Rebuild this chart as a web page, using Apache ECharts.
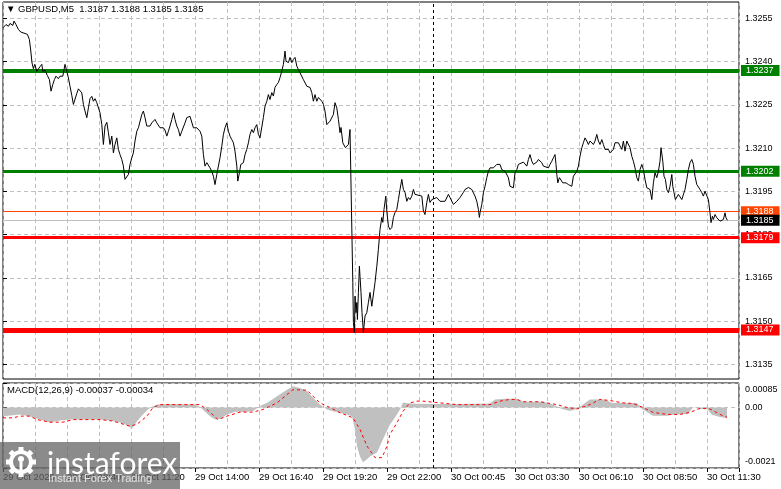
<!DOCTYPE html>
<html>
<head>
<meta charset="utf-8">
<script src="https://cdn.jsdelivr.net/npm/echarts@6/dist/echarts.min.js"></script>
<style>html,body{margin:0;padding:0;background:#fff}#c{width:781px;height:489px}</style>
</head>
<body>
<div id="c"></div>
<script>
// ---------- DATA ----------
const chartTitle = '\u25BC GBPUSD,M5  1.3187 1.3188 1.3185 1.3185';
const macdTitle = 'MACD(12,26,9) -0.00037 -0.00034';
const barCount = 368; // visible bar slots (M5)
const timeLabelBars = [0, 32, 64, 96, 128, 160, 192, 224, 256, 288, 320, 352];
const timeLabels = ['29 Oct 2025', '29 Oct 08:40', '29 Oct 11:20', '29 Oct 14:00', '29 Oct 16:40', '29 Oct 19:20',
  '29 Oct 22:00', '30 Oct 00:45', '30 Oct 03:30', '30 Oct 06:10', '30 Oct 08:50', '30 Oct 11:30'];
const daySeparatorBar = 215;
const priceMin = 1.312997, priceMax = 1.326072;
const priceTicks = [1.3135, 1.3150, 1.3165, 1.3180, 1.3195, 1.3210, 1.3225, 1.3240, 1.3255];
const macdMin = -0.0021, macdMax = 0.00085;
const macdTicks = [-0.0021, 0, 0.00085];
const levelValues = [1.3237, 1.3202, 1.3188, 1.3185, 1.3179, 1.3147];

// close line vertices: [bar index, close]
const closes = [
[0,1.32518],[1.5,1.32529],[2.7,1.32523],[3.5,1.32533],[4.9,1.32526],[5.5,1.32541],[6.5,1.32529],[7.7,1.32512],[8.9,1.32503],[9.9,1.32498],[11,1.32498],[12.2,1.32495],[13.2,1.32477],[13.9,1.32437],[14.5,1.32396],[15.2,1.32376],[15.9,1.32391],[16.9,1.32367],[17.7,1.32364],[18.5,1.32383],[19.4,1.32391],[19.9,1.32367],[21,1.32371],[22.2,1.32352],[23.2,1.32338],[24,1.32298],[24.9,1.32321],[25.7,1.32338],[26.5,1.3235],[27.7,1.32341],[28.5,1.3235],[29.9,1.3235],[31,1.32391],[31.9,1.32367],[32.7,1.32344],[33.5,1.32315],[34.4,1.32283],[35.2,1.32252],[36,1.32252],[36.9,1.3229],[37.7,1.32306],[38.5,1.3231],[39.4,1.32292],[40.2,1.32252],[41,1.32229],[41.9,1.32206],[42.7,1.3224],[43.5,1.32272],[44.4,1.3228],[45.2,1.32263],[46,1.32272],[46.9,1.32258],[47.7,1.32252],[48.5,1.32223],[49.4,1.32182],[50.2,1.32113],[51,1.32177],[51.9,1.3219],[52.7,1.32154],[53.5,1.32113],[54.4,1.32142],[55.2,1.32084],[56,1.32113],[56.9,1.32136],[57.7,1.32096],[58.5,1.32078],[59.4,1.32061],[60.2,1.32038],[61,1.31992],[61.9,1.31998],[62.7,1.32009],[63.5,1.32044],[64.4,1.32067],[65.2,1.32084],[66,1.32125],[66.9,1.32159],[67.7,1.32171],[68.5,1.32165],[69.4,1.32217],[70.2,1.32229],[71,1.32206],[71.9,1.32177],[72.7,1.32182],[73.5,1.32177],[74.4,1.32188],[75.2,1.32182],[76,1.322],[76.9,1.32188],[77.7,1.32188],[78.5,1.32171],[79.4,1.32165],[80.2,1.32171],[81,1.32163],[81.9,1.32142],[82.7,1.32159],[83.5,1.32177],[84.4,1.322],[85.2,1.32223],[86,1.322],[86.9,1.32177],[87.7,1.32165],[88.5,1.32142],[89.4,1.32159],[90.2,1.32165],[91,1.32188],[91.9,1.32206],[92.7,1.32211],[93.5,1.32211],[94.4,1.32206],[95.2,1.32171],[96,1.32165],[96.9,1.32171],[97.7,1.32168],[98.5,1.32159],[99.4,1.32142],[100.2,1.32078],[101,1.32038],[101.9,1.3205],[102.7,1.32044],[103.5,1.32032],[104.4,1.3202],[105.2,1.32003],[106,1.31974],[106.9,1.32009],[107.7,1.32038],[108.5,1.32067],[109.4,1.32107],[110.2,1.32148],[111,1.32171],[111.9,1.32188],[112.7,1.32159],[113.5,1.32142],[114.4,1.3213],[115.2,1.32119],[116,1.3209],[116.9,1.32038],[117.4,1.31986],[118.2,1.32015],[118.9,1.32044],[120.2,1.3205],[121,1.32078],[121.9,1.32096],[122.7,1.32119],[123.5,1.32148],[124.4,1.32165],[125.2,1.32154],[126,1.32171],[126.9,1.32182],[127.7,1.32148],[128.5,1.32136],
[130.2,1.32207],[131,1.32246],[131.9,1.32263],[132.7,1.32286],[133.5,1.32269],[134.4,1.32293],[135.2,1.32281],[136,1.32311],[136.9,1.32321],[137.7,1.32328],[138.5,1.32345],[139.4,1.32367],[140.2,1.32391],[141,1.32437],[141.5,1.32402],[142.7,1.32397],[143.5,1.32415],[144.4,1.32397],[145.2,1.32408],[146,1.32415],[146.9,1.32385],[147.7,1.32373],[148.5,1.32367],[150.2,1.32338],[151,1.32333],[151.9,1.32315],[153.5,1.32311],[154.4,1.32293],[155.2,1.32263],[156,1.32286],[156.9,1.32263],[157.7,1.32276],[158.5,1.32281],[159.4,1.32263],[160.2,1.32252],[161,1.32229],[161.9,1.32182],[162.7,1.32177],[163.5,1.32194],[164.4,1.322],[165.2,1.32217],[166,1.32258],[166.9,1.3224],[167.7,1.322],[168.5,1.32154],[169,1.32172],[169.9,1.32119],[170.5,1.32113],[171.2,1.32102],[171.9,1.32096],[172.7,1.32113],[173.5,1.32165],[174,1.32165],[174.9,1.31634],[175.2,1.31496],[175.7,1.31461],[176,1.31587],[176.5,1.3153],[176.9,1.31565],[177.2,1.31506],[177.7,1.316],[178.2,1.31691],[178.5,1.31656],[179,1.316],[179.5,1.3153],[180.2,1.31461],[181,1.31518],[181.9,1.3153],[182.7,1.31565],[183.5,1.316],[184.4,1.31552],[185.2,1.31552],[186,1.31634],[186.9,1.31691],[187.7,1.31749],[188.5,1.31818],[189.4,1.3186],[189.9,1.31843],[190.5,1.31888],[191.4,1.31934],[191.9,1.31882],[192.7,1.3183],[193.5,1.31818],[194.4,1.31825],[195.2,1.3186],[196,1.31877],[196.9,1.31888],[197.7,1.31922],[198.5,1.31957],[199.4,1.31992],[200.2,1.31957],[201,1.31947],[201.9,1.31916],[202.7,1.31929],[203.5,1.31922],[204.4,1.31934],[205.2,1.31957],[206,1.3194],[206.9,1.31934],[209.4,1.31934],[210.2,1.31882],[211,1.3187],[211.9,1.31912],[212.7,1.3194],[213.5,1.31912],[214.4,1.31922],[215.2,1.31916],[216.9,1.31929],[218.5,1.31916],[219.4,1.31912],[221,1.31916],[222.7,1.3194],[223.5,1.31929],[225.2,1.31905],[226.9,1.31916],[228.5,1.31929],[230.2,1.31947],[231,1.31957],[232.7,1.31964],[233.5,1.31968],[234.4,1.31957],[236,1.31934],[236.9,1.31916],[237.7,1.31888],[238.2,1.3186],[238.5,1.31876],[239.4,1.31905],[240.2,1.31946],[241,1.31968],[241.9,1.31998],[242.7,1.3202],[243.5,1.32032],[244.4,1.32026],[245.2,1.32032],[246.9,1.32044],[247.7,1.3205],[248.5,1.32044],[249.4,1.32026],[250.2,1.32032],[251,1.3202],[251.9,1.32026],[252.7,1.31998],[253.5,1.31968],[254.4,1.31974],[255.2,1.31963],[256,1.32015],[256.9,1.32026],[257.7,1.32044],[258.5,1.3205],[260.2,1.32052],[261,1.3205],[261.9,1.32038],[262.7,1.32061],[263.5,1.32078],[264.4,1.32055],[265.2,1.32044],[266,1.32044],[266.9,1.32052],[267.7,1.32061],[268.5,1.32059],[269.4,1.3205],[270.2,1.32038],[271,1.32032],[272.7,1.32032],[273.5,1.32044],[274.4,1.32055],[275.2,1.32067],[276,1.32078],[276.5,1.32044],[276.9,1.32009],[277.4,1.3198],[278.2,1.31998],[279,1.31992],[279.9,1.3198],[280.5,1.31974],[281.5,1.3198],[282.7,1.31974],[284.4,1.31968],[285.2,1.32003],[286,1.32009],[286.9,1.3202],[287.7,1.32038],[288.5,1.32072],[289.4,1.32102],[290.2,1.32119],[291,1.32136],[291.9,1.32125],[292.7,1.32113],[293.5,1.32125],[294.4,1.32119],[295.2,1.32113],[296,1.32125],[296.9,1.32148],[297.7,1.32125],[298.5,1.32113],[299.4,1.3213],[300.2,1.32113],[301,1.32096],[301.9,1.3209],[302.7,1.32096],[303.5,1.32084],[304.4,1.32084],[305.2,1.32096],[306,1.32119],[306.9,1.32125],[307.7,1.32119],[308.5,1.32125],[309.4,1.32096],[310.2,1.32125],[311,1.3209],[311.9,1.32125],[312.7,1.32119],[313.5,1.32102],[314.4,1.32072],[315.2,1.32055],[316,1.32032],[316.9,1.31998],[317.7,1.31986],[318.5,1.32026],[319.4,1.32044],[320.2,1.32026],[321,1.31992],[321.9,1.31963],[322.7,1.31968],[323.5,1.31957],[324.4,1.31922],[325.2,1.3198],[326,1.32015],[326.9,1.31998],[327.7,1.3202],[328.5,1.32055],[329,1.32102],[329.9,1.32055],[330.5,1.32003],[331.2,1.31992],[331.9,1.31957],[332.7,1.31946],[333.5,1.31968],[334.4,1.32009],[334.9,1.31968],[335.5,1.31946],[336.2,1.31922],[336.9,1.31928],[337.7,1.3194],[338.5,1.31934],[339.4,1.31922],[340.2,1.31916],[341,1.31957],[341.9,1.31992],[342.7,1.32026],[343.5,1.3205],[344.4,1.32061],[345.2,1.32044],[346,1.32003],[346.9,1.31974],[347.7,1.31968],[348.5,1.31957],[349.4,1.31946],[350.2,1.31934],[351,1.31951],[351.9,1.31957],[352.7,1.31922],[353.5,1.31876],[354,1.31842],[354.7,1.31864],[355.2,1.31853],[356,1.3187],[356.9,1.31859],[357.7,1.31864],[358.5,1.31847],[359.4,1.31844],[360.2,1.31853],[361,1.31876],[361.5,1.31859],[362.2,1.3185]
];

// MACD main (histogram) vertices: [bar index, value]
const macdMain = [
[0,-0.0003],[8.5,-0.00024],[13.5,-0.00031],[18.5,-0.00042],[23.5,-0.00052],[28.5,-0.00045],[33.5,-0.00042],[48.5,-0.00042],[53.5,-0.00045],[58.5,-0.00052],[62,-0.00062],[64.5,-0.00073],[67,-0.00048],[69.5,-0.00028],[72,-0.0001],[74.5,0.00003],[77,0.0001],[83.5,0.00012],[91,0.00011],[96,0.0001],[98.5,0.00002],[101,-0.00015],[103.5,-0.0003],[106,-0.00042],[108.5,-0.0004],[112,-0.00024],[116,-0.00015],[121,-0.00016],[125,-0.00012],[127.5,0],[130,0.0001],[132,0.00016],[137,0.00039],[142,0.00062],[145,0.00074],[148.5,0.00068],[152,0.00056],[155,0.00034],[158.5,0.0001],[162,-0.00007],[165,-0.00013],[172,-0.00024],[174.5,-0.0003],[176,-0.00076],[177,-0.00135],[178.5,-0.0017],[180,-0.0019],[182,-0.0018],[183.5,-0.0017],[187,-0.00156],[190,-0.0011],[193.5,-0.00059],[196,-0.00035],[198.5,-0.00007],[200,0.00017],[203.5,0.00014],[213.5,0.00012],[228.5,0.00012],[243.5,0.00014],[246,0.00028],[251,0.0003],[257,0.0003],[260,0.0002],[270,0.0002],[275,0.0001],[279.5,-0.00005],[283.5,-0.00012],[287,-0.00005],[290,0.0001],[293.5,0.00028],[301,0.00028],[304.5,0.00016],[317,0.00016],[319.5,-0.00005],[325,-0.00029],[332,-0.00029],[336,-0.00024],[342.5,-0.00022],[345,0],[348.5,-0.00005],[352,-0.00005],[354.5,-0.00025],[358.5,-0.00033],[362,-0.00037]
];
// MACD signal vertices
const macdSignal = [
[0,-0.00036],[5,-0.00036],[8.5,-0.0003],[13.5,-0.0003],[17,-0.00042],[23.5,-0.00051],[30,-0.00051],[35,-0.00042],[48.5,-0.00042],[55,-0.00047],[63.5,-0.00065],[67,-0.00058],[72,-0.0003],[75,0],[78.5,0.0001],[98.5,0.0001],[102,-0.00007],[107.5,-0.00042],[112,-0.0003],[118.5,-0.00016],[125,-0.00016],[130,-0.00007],[137,0.00016],[142,0.00045],[145,0.00062],[152,0.0006],[155,0.00039],[158.5,0.00016],[163.5,0],[168.5,-0.00018],[175,-0.00036],[178.5,-0.00076],[182,-0.00134],[186,-0.00174],[189.5,-0.00174],[192,-0.00134],[193.5,-0.00093],[197,-0.00053],[200,-0.00013],[203.5,0.00016],[207,0.00022],[210,0.00022],[218.5,0.00016],[227,0.0001],[243.5,0.0001],[248.5,0.00022],[253.5,0.00028],[257,0.00028],[260,0.0002],[268.5,0.0002],[277,0.0001],[282,0],[287,-0.00005],[293.5,0.0001],[298.5,0.00028],[303.5,0.00024],[310,0.00016],[315,0.00014],[320,0],[325,-0.00017],[332,-0.00024],[338.5,-0.00024],[343.5,-0.00017],[348.5,-0.00003],[353.5,-0.00005],[358.5,-0.00024],[362,-0.00034]
];

// ---------- STYLE ----------
const FONT = 'Liberation Sans';
const gridDash = {color: '#c0c0c0', type: [4, 3], width: 1};
const levelStyles = [
  {color: '#008000', width: 4, bg: '#008000'},
  {color: '#008000', width: 3, bg: '#008000'},
  {color: '#ff4500', width: 1, bg: '#ff4500'},
  {color: '#c0c0c0', width: 1, bg: '#000000'},
  {color: '#ff0000', width: 3, bg: '#ff0000'},
  {color: '#ff0000', width: 5, bg: '#ff0000'}
];
const labelMap = {};
timeLabelBars.forEach((b, i) => { labelMap[b] = timeLabels[i]; });

const chart = echarts.init(document.getElementById('c'), null, {renderer: 'canvas'});

const levelMarks = levelValues.map((v, i) => ({
  name: 'L' + i,
  yAxis: v,
  lineStyle: {color: levelStyles[i].color, width: levelStyles[i].width, type: 'solid'},
  label: {
    show: true, position: 'end', distance: 2,
    formatter: v.toFixed(4),
    color: '#fff', backgroundColor: levelStyles[i].bg,
    padding: [1, 6, 1, 5], fontSize: 9, fontFamily: FONT
  }
}));

const separatorMark = {
  xAxis: daySeparatorBar,
  lineStyle: {color: '#000', type: [3, 3], width: 1},
  label: {show: false}
};

// gear teeth for watermark
const gearCx = 21, gearCy = 462;
const teeth = [];
for (let k = 0; k < 8; k++) {
  teeth.push({
    type: 'rect', x: gearCx, y: gearCy, rotation: k * Math.PI / 4,
    shape: {x: -2.5, y: -15, width: 5, height: 6},
    style: {fill: '#fff'}, z: 101
  });
}

chart.setOption({
  animation: false,
  backgroundColor: '#fff',
  textStyle: {fontFamily: FONT},
  title: [
    {text: chartTitle, left: 6, top: 4, padding: 0,
     textStyle: {fontSize: 9.5, fontWeight: 'normal', color: '#000', fontFamily: FONT}},
    {text: macdTitle, left: 7, top: 385, padding: 0,
     textStyle: {fontSize: 9.5, fontWeight: 'normal', color: '#000', fontFamily: FONT}}
  ],
  grid: [
    {left: 3, right: 42, top: 2, height: 377, show: true, borderColor: '#000', borderWidth: 1, backgroundColor: '#fff'},
    {left: 3, right: 42, top: 383, height: 85, show: true, borderColor: '#000', borderWidth: 1, backgroundColor: '#fff'}
  ],
  xAxis: [
    {gridIndex: 0, type: 'value', min: 0, max: barCount, interval: 16,
     axisLine: {show: false}, axisTick: {show: false}, axisLabel: {show: false},
     splitLine: {show: true, lineStyle: gridDash}},
    {gridIndex: 1, type: 'value', min: 0, max: barCount, interval: 16,
     axisLine: {show: false}, axisTick: {show: false}, axisLabel: {show: false},
     splitLine: {show: true, lineStyle: gridDash}},
    {gridIndex: 1, type: 'value', min: 0, max: barCount, interval: 32, position: 'bottom',
     axisLine: {show: false},
     axisTick: {show: true, length: 4, lineStyle: {color: '#000'}},
     axisLabel: {show: true, formatter: v => labelMap[v] || '', align: 'left', margin: 4,
                 fontSize: 9.5, color: '#000', fontFamily: FONT, showMinLabel: true, showMaxLabel: true},
     splitLine: {show: false}}
  ],
  yAxis: [
    {gridIndex: 0, type: 'value', position: 'right', min: priceMin, max: priceMax,
     axisLine: {show: false},
     axisTick: {show: true, length: 4, lineStyle: {color: '#000'}, customValues: priceTicks},
     axisLabel: {customValues: priceTicks, formatter: v => v.toFixed(4), margin: 6,
                 fontSize: 9, color: '#000', fontFamily: FONT},
     splitLine: {show: true, lineStyle: gridDash}},
    {gridIndex: 1, type: 'value', position: 'right', min: macdMin, max: macdMax,
     axisLine: {show: false},
     axisTick: {show: true, length: 4, lineStyle: {color: '#000'}, customValues: macdTicks},
     axisLabel: {customValues: macdTicks, margin: 6, fontSize: 9, color: '#000', fontFamily: FONT,
                 showMinLabel: true, showMaxLabel: true,
                 formatter: v => {
                   if (v === 0) return '0.00';
                   if (v > 0) return '{t|' + v.toFixed(5) + '}';
                   return '{b|' + v.toFixed(4) + '}';
                 },
                 rich: {
                   t: {padding: [13, 0, 0, 0], fontSize: 9, color: '#000', fontFamily: FONT},
                   b: {padding: [0, 0, 13, 0], fontSize: 9, color: '#000', fontFamily: FONT}
                 }},
     splitLine: {show: true, lineStyle: gridDash}}
  ],
  series: [
    {name: 'close', type: 'line', xAxisIndex: 0, yAxisIndex: 0, data: closes, z: 3,
     showSymbol: false, symbol: 'none', lineStyle: {color: '#000', width: 1},
     markLine: {silent: true, z: 2, precision: 6, symbol: ['none', 'none'], animation: false,
                data: [separatorMark].concat(levelMarks)}},
    {name: 'macd', type: 'line', xAxisIndex: 1, yAxisIndex: 1, data: macdMain, z: 2,
     showSymbol: false, symbol: 'none', lineStyle: {width: 0, color: '#c0c0c0'},
     areaStyle: {color: '#c0c0c0', opacity: 1, origin: 0},
     markLine: {silent: true, precision: 6, symbol: ['none', 'none'], animation: false, data: [separatorMark]}},
    {name: 'signal', type: 'line', xAxisIndex: 1, yAxisIndex: 1, data: macdSignal, z: 3,
     showSymbol: false, symbol: 'none', lineStyle: {color: '#ff0000', width: 1, type: [3, 3]}}
  ],
  graphic: [
    {type: 'rect', shape: {x: 0, y: 442, width: 180, height: 47}, style: {fill: 'rgba(100,100,100,0.75)'}, z: 100},
    {type: 'circle', shape: {cx: gearCx, cy: gearCy, r: 10}, style: {fill: 'none', stroke: '#fff', lineWidth: 4}, z: 101}
  ].concat(teeth).concat([
    {type: 'circle', shape: {cx: gearCx, cy: gearCy - 3, r: 3}, style: {fill: '#fff'}, z: 101},
    {type: 'rect', shape: {x: gearCx - 1.5, y: gearCy, width: 3, height: 9}, style: {fill: '#fff'}, z: 101},
    {type: 'text', x: 47, y: 449, style: {text: 'instaforex', fill: '#fff', font: '30px Lato', verticalAlign: 'top'}, z: 101},
    {type: 'text', x: 48, y: 473, style: {text: 'Instant Forex Trading', fill: '#e6e6e6', font: '11px "Liberation Sans"', verticalAlign: 'top'}, z: 101}
  ])
});
</script>
</body>
</html>
